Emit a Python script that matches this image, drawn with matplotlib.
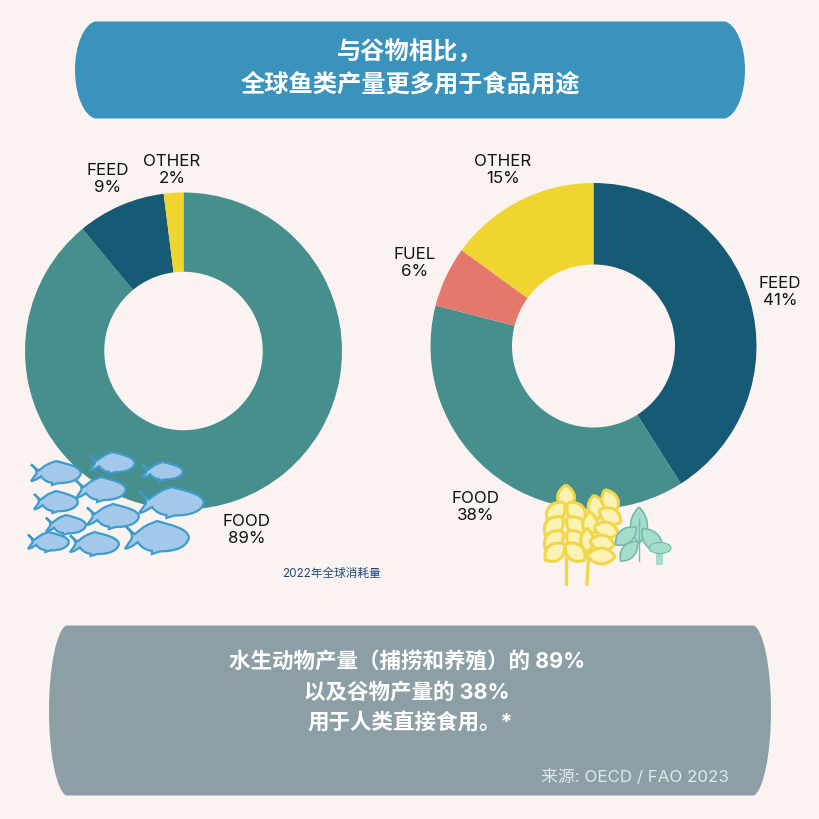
import matplotlib
matplotlib.use("Agg")
import matplotlib.pyplot as plt
from matplotlib.patches import Ellipse, PathPatch, Rectangle
from matplotlib.path import Path
from matplotlib.transforms import Affine2D

# data
fish_labels = ["FOOD", "FEED", "OTHER"]
fish_values = [89, 9, 2]
grain_labels = ["FEED", "FOOD", "FUEL", "OTHER"]
grain_values = [41, 38, 6, 15]

BG = "#FBF3F1"
TEAL = "#478F8C"
NAVY = "#165A75"
YELLOW = "#F0D430"
SALMON = "#E5786D"
fish_colors = [TEAL, NAVY, YELLOW]
grain_colors = [NAVY, TEAL, SALMON, YELLOW]

CJK = ["Noto Sans CJK SC", "DejaVu Sans"]
MIXED = ["Inter", "Noto Sans CJK SC", "DejaVu Sans"]


def donut(fig, cx, cy, r, values, colors, hole):
    # cx, cy, r are in pixels of the 820 canvas
    ax = fig.add_axes([(cx - r) / 820, 1 - (cy + r) / 820, 2 * r / 820, 2 * r / 820])
    ax.pie(values, colors=colors, startangle=90, counterclock=False, radius=1,
           wedgeprops={"width": 1 - hole, "linewidth": 0})
    ax.set_xlim(-1, 1)
    ax.set_ylim(-1, 1)
    ax.axis("off")
    return ax


def banner(ax, x0, x1, y0, y1, dx, color):
    h = y1 - y0
    ym = (y0 + y1) / 2
    verts = [(x0 + dx, y0), (x1 - dx, y0),
             (x1 - dx * 0.45, y0 + h * 0.03), (x1, y0 + h * 0.24), (x1, ym),
             (x1, y1 - h * 0.24), (x1 - dx * 0.45, y1 - h * 0.03), (x1 - dx, y1),
             (x0 + dx, y1),
             (x0 + dx * 0.45, y1 - h * 0.03), (x0, y1 - h * 0.24), (x0, ym),
             (x0, y0 + h * 0.24), (x0 + dx * 0.45, y0 + h * 0.03), (x0 + dx, y0)]
    codes = [Path.MOVETO, Path.LINETO] + [Path.CURVE4] * 6 + [Path.LINETO] + [Path.CURVE4] * 6
    ax.add_patch(PathPatch(Path(verts, codes), fc=color, ec="none"))


FISH_PATH = Path(
    [(1, 0), (0.97, -0.28), (0.75, -0.36), (0.5, -0.5), (0.4, -0.42), (0.3, -0.36), (0.22, -0.2),
     (0.15, -0.1), (0.0, -0.36), (0.09, -0.2), (0.13, -0.08), (0.1, 0.05), (0.0, 0.34),
     (0.1, 0.3), (0.16, 0.2), (0.2, 0.14), (0.26, 0.32), (0.35, 0.4), (0.42, 0.4), (0.42, 0.5),
     (0.55, 0.42), (0.8, 0.42), (0.97, 0.28), (1, 0)],
    [Path.MOVETO, Path.CURVE4, Path.CURVE4, Path.CURVE4, Path.LINETO, Path.CURVE4, Path.CURVE4,
     Path.CURVE4, Path.LINETO, Path.CURVE4, Path.CURVE4, Path.CURVE4, Path.LINETO,
     Path.CURVE4, Path.CURVE4, Path.CURVE4, Path.CURVE4, Path.CURVE4, Path.CURVE4, Path.LINETO,
     Path.LINETO, Path.CURVE4, Path.CURVE4, Path.CURVE4])

LEAF_PATH = Path(
    [(0, -0.5), (0.6, -0.2), (0.6, 0.25), (0, 0.5), (-0.6, 0.25), (-0.6, -0.2), (0, -0.5)],
    [Path.MOVETO] + [Path.CURVE4] * 6)


def fish(ax, x0, x1, y0, y1):
    tr = Affine2D().scale(x1 - x0, y1 - y0).translate(x0, (y0 + y1) / 2)
    ax.add_patch(PathPatch(FISH_PATH.transformed(tr), fc="#A3C8EA", ec="#3C9CCB", lw=1.6, zorder=5))


def grain(ax, x, y, w, h, angle):
    tr = Affine2D().scale(w * 1.25, h).rotate_deg(angle).translate(x, y)
    ax.add_patch(PathPatch(LEAF_PATH.transformed(tr), fc="#FBF3B5", ec="#F2D648", lw=2.2, zorder=5))


def leaf(ax, x, y, w, h, angle):
    tr = Affine2D().scale(w * 1.25, h).rotate_deg(angle).translate(x, y)
    ax.add_patch(PathPatch(LEAF_PATH.transformed(tr), fc="#A6DCCB", ec="#72BBAA", lw=1.2, zorder=5))


fig = plt.figure(figsize=(8.2, 8.2), dpi=100, facecolor=BG)

donut(fig, 183.5, 352, 158.5, fish_values, fish_colors, 0.5)
donut(fig, 593.5, 347, 163, grain_values, grain_colors, 0.5)

# overlay in canvas pixels
ov = fig.add_axes([0, 0, 1, 1])
ov.set_xlim(0, 820)
ov.set_ylim(820, 0)
ov.axis("off")
ov.patch.set_alpha(0)

banner(ov, 75, 745, 22.5, 119.5, 20, "#3A93BC")
banner(ov, 49, 771, 626.5, 796.5, 17, "#8C9FA6")

ov.text(410, 53, "与谷物相比，", ha="center", va="center", color="white",
        fontsize=17.5, fontweight="bold", family=CJK)
ov.text(410, 85, "全球鱼类产量更多用于食品用途", ha="center", va="center", color="white",
        fontsize=17.5, fontweight="bold", family=CJK)

ov.text(407, 661, "水生动物产量（捕捞和养殖）的 89%", ha="center", va="center", color="white",
        fontsize=15.5, fontweight="bold", family=MIXED)
ov.text(407, 692, "以及谷物产量的 38%", ha="center", va="center", color="white",
        fontsize=15.5, fontweight="bold", family=MIXED)
ov.text(410, 722, "用于人类直接食用。*", ha="center", va="center", color="white",
        fontsize=15.5, fontweight="bold", family=MIXED)
ov.text(729, 777, "来源: OECD / FAO 2023", ha="right", va="center", color="#E3E8E9",
        fontsize=12.2, family=MIXED)
ov.text(331, 574, "2022年全球消耗量", ha="center", va="center", color="#1F4A78",
        fontsize=8.4, family=MIXED)

# slice labels
label_pos = [
    (fish_labels[0], fish_values[0], 247, 530),
    (fish_labels[1], fish_values[1], 108, 179),
    (fish_labels[2], fish_values[2], 172, 170),
    (grain_labels[0], grain_values[0], 780, 292),
    (grain_labels[1], grain_values[1], 476, 507),
    (grain_labels[2], grain_values[2], 415, 263),
    (grain_labels[3], grain_values[3], 503, 170),
]
for name, val, x, y in label_pos:
    ov.text(x, y, "%s\n%d%%" % (name, val), ha="center", va="center", color="#111111",
            fontsize=12.2, family=MIXED, linespacing=1.15)

# fish icons
for box in [(31, 81, 462, 486), (90, 135, 453, 475), (142, 183, 463, 482), (76, 126, 478, 503),
            (139, 204, 488, 519), (34, 78, 492, 514), (87, 139, 505, 530), (46, 86, 516, 536),
            (28, 69, 533, 553), (70, 119, 533, 557), (125, 189, 522, 555)]:
    fish(ov, *box)

# wheat icons
ov.plot([566, 566], [555, 585], color="#F2D648", lw=2.5, zorder=4)
ov.plot([587, 589], [585, 550], color="#F2D648", lw=2.5, zorder=4)
grain(ov, 566, 498, 15, 24, 0)
for x, y, a in [(556, 513, 40), (576, 513, -40), (554, 527, 45), (576, 527, -45),
                (554, 541, 45), (576, 541, -45), (555, 553, 50), (575, 553, -50)]:
    grain(ov, x, y, 15, 25, a)
for x, y, w, h, a in [(596, 508, 14, 24, -10), (610, 502, 14, 25, -25), (590, 525, 13, 24, 0),
                      (610, 517, 14, 25, -60), (587, 541, 11, 24, 0), (606, 531, 14, 25, -75),
                      (602, 544, 14, 25, -80), (601, 557, 14, 28, -88)]:
    grain(ov, x, y, w, h, a)

# leaf and mushroom icons
ov.plot([639, 639], [520, 562], color="#72BBAA", lw=1, zorder=6)
leaf(ov, 639, 526, 15, 36, 0)
leaf(ov, 626, 537, 13, 27, 50)
leaf(ov, 629, 552, 12, 26, 40)
leaf(ov, 652, 541, 14, 30, -40)
ov.add_patch(Rectangle((656, 550), 7, 16, fc="#A6DCCB", ec="none", zorder=5))
ov.add_patch(Ellipse((660, 549), 22, 11, fc="#A6DCCB", ec="#72BBAA", lw=0.8, zorder=5))

fig.savefig("out.png", dpi=100, facecolor=BG)
